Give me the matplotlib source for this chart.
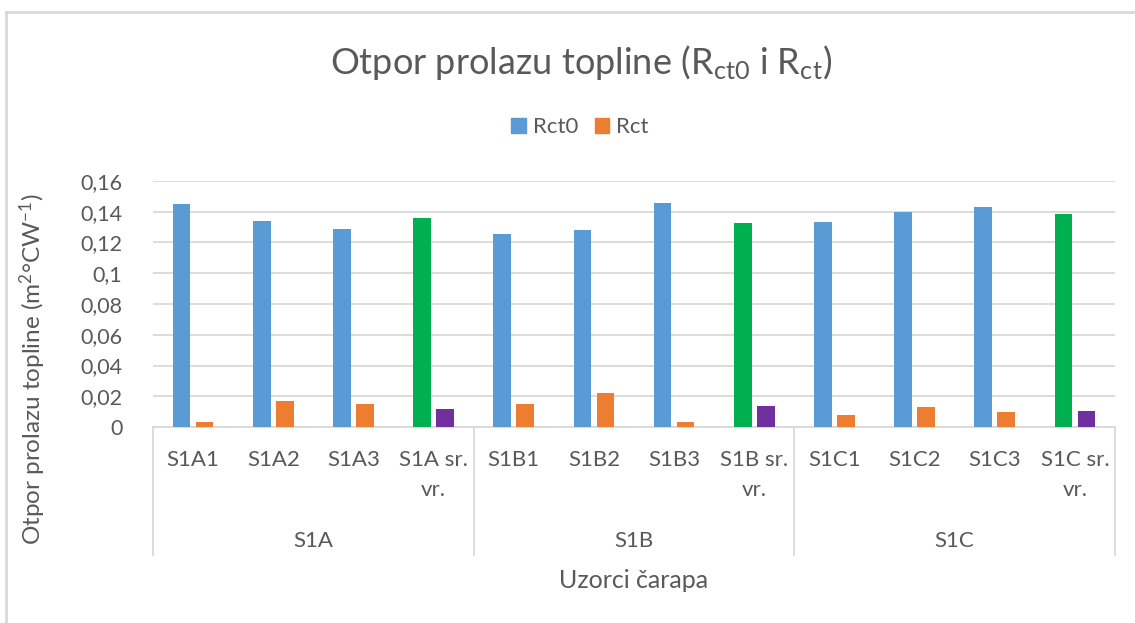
import numpy as np
import matplotlib
matplotlib.use('Agg')
import matplotlib.pyplot as plt
from matplotlib.patches import Patch
from matplotlib.lines import Line2D
from matplotlib.ticker import FuncFormatter

# =========================================================
# PODACI
# =========================================================
categories = ['S1A1', 'S1A2', 'S1A3', 'S1A sr.\nvr.',
              'S1B1', 'S1B2', 'S1B3', 'S1B sr.\nvr.',
              'S1C1', 'S1C2', 'S1C3', 'S1C sr.\nvr.']
groups = ['S1A', 'S1B', 'S1C']
rct0 = [0.1448, 0.1341, 0.1287, 0.1359,
        0.1254, 0.1280, 0.1457, 0.1326,
        0.1333, 0.1396, 0.1428, 0.1387]
rct = [0.0035, 0.0167, 0.0148, 0.0117,
       0.0148, 0.0220, 0.0035, 0.0134,
       0.0078, 0.0133, 0.0096, 0.0107]
yticks = [0, 0.02, 0.04, 0.06, 0.08, 0.1, 0.12, 0.14, 0.16]

c_rct0 = '#5B9BD5'
c_rct = '#ED7D31'
c_mean0 = '#00B050'
c_mean = '#7030A0'
txt = '#595959'
grid_c = '#D9D9D9'

plt.rcParams['font.family'] = ['Lato', 'DejaVu Sans']
plt.rcParams['mathtext.fontset'] = 'custom'
plt.rcParams['mathtext.rm'] = 'Lato'
plt.rcParams['mathtext.it'] = 'Lato:italic'

W, H = 1135, 623
fig = plt.figure(figsize=(W / 100, H / 100), dpi=100)
ax = fig.add_axes([153 / W, 1 - 427 / H, (1115 - 153) / W, (427 - 181) / H])

x = np.arange(len(categories))
is_mean = [c.endswith('vr.') for c in categories]
cols0 = [c_mean0 if m else c_rct0 for m in is_mean]
cols1 = [c_mean if m else c_rct for m in is_mean]

bw = 0.22
off = 0.143
ax.bar(x - off, rct0, bw, color=cols0, zorder=3)
ax.bar(x + off, rct, bw, color=cols1, zorder=3)

ax.set_xlim(-0.5, len(categories) - 0.5)
ax.set_ylim(0, 0.16)
ax.set_yticks(yticks)
ax.yaxis.set_major_formatter(FuncFormatter(lambda v, p: f'{v:g}'.replace('.', ',')))
ax.tick_params(axis='y', length=0, pad=22, labelsize=15.5, labelcolor=txt)
ax.set_xticks([])
ax.grid(axis='y', color=grid_c, linewidth=1.3, zorder=0)
for s in ['top', 'right', 'left']:
    ax.spines[s].set_visible(False)
ax.spines['bottom'].set_color(grid_c)
ax.spines['bottom'].set_linewidth(1.3)

# kategorije (dva reda)
trans = ax.get_xaxis_transform()
for i, lab in enumerate(categories):
    ax.text(i, -(450 - 427) / 246, lab, transform=trans, ha='center', va='top',
            fontsize=16, color=txt, linespacing=1.65)

# grupe i separatori
n_per = len(categories) // len(groups)
for g, name in enumerate(groups):
    ax.text(g * n_per + (n_per - 1) / 2, -(541 - 427) / 246, name, transform=trans,
            ha='center', va='center', fontsize=16, color=txt)
for b in np.arange(len(groups) + 1) * n_per - 0.5:
    ax.add_line(Line2D([b, b], [0, -(555 - 427) / 246], transform=trans,
                       color=grid_c, linewidth=1.3, clip_on=False))

fig.text(634 / W, 1 - 581 / H, 'Uzorci čarapa', ha='center', va='center',
         fontsize=18, color=txt)
fig.text(33 / W, 1 - 369 / H, 'Otpor prolazu topline (m$^{2}$°CW$^{-1}$)',
         rotation=90, ha='center', va='center', fontsize=17.5, color=txt)
fig.text(581 / W, 1 - 63 / H, r'Otpor prolazu topline (R$_{\mathrm{ct0}}$ i R$_{\mathrm{ct}}$)',
         ha='center', va='center', fontsize=26, color=txt)

handles = [Patch(color=c_rct0, label='Rct0'), Patch(color=c_rct, label='Rct')]
fig.legend(handles=handles, loc='center', bbox_to_anchor=(580 / W, 1 - 127 / H), ncol=2,
           frameon=False, fontsize=16, labelcolor=txt, handlelength=0.64,
           handleheight=0.64, handletextpad=0.32, columnspacing=0.75)

# okvir slike (gore i lijevo)
fig.add_artist(Line2D([6 / W, 1], [1 - 12 / H] * 2, color=grid_c, linewidth=2))
fig.add_artist(Line2D([6 / W] * 2, [0, 1 - 12 / H], color=grid_c, linewidth=2))

fig.savefig('out.png', dpi=100)
